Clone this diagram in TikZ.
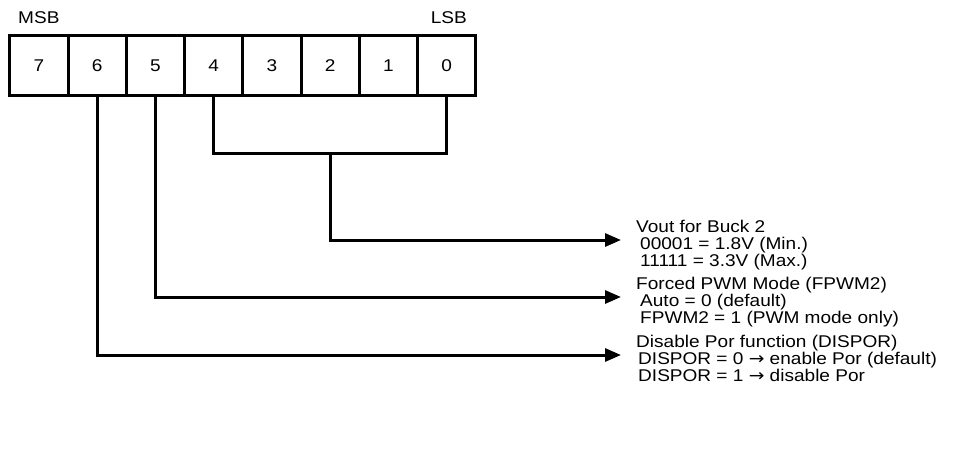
\documentclass[tikz,border=0pt]{standalone}
\usepackage{fontspec}
\setmainfont{Liberation Sans}[FakeStretch=1.12]
\newfontfamily\arrowfont{DejaVu Sans}[FakeStretch=1.1]
\newcommand{\rarr}{{\arrowfont →}}
\usetikzlibrary{arrows.meta,positioning,calc}
\begin{document}
\begin{tikzpicture}[x=1pt,y=-1pt,
  txt/.style={font=\fontsize{17}{17}\selectfont,inner sep=0pt},
  bitcell/.style={draw,line width=3pt,minimum width=58.25pt,minimum height=59pt,inner sep=0pt,txt,anchor=center},
  link/.style={line width=3pt},
  arr/.style={link,-{Triangle[length=16pt,width=13pt]}},
  lbl/.style={txt,anchor=base west}]
\useasboundingbox (0,0) rectangle (957,452);
\foreach \i/\b in {0/7,1/6,2/5,3/4,4/3,5/2,6/1,7/0}{
  \node[bitcell] (b\b) at ({39+58.25*\i},65.5) {\b};
}
\node[txt,anchor=base west] (msb) at (18,24) {MSB};
\node[txt,anchor=base east] (lsb) at (467,24) {LSB};
\coordinate (j4) at (b4.south |- 0,153);
\coordinate (j0) at (b0.south |- 0,153);
\coordinate (jm) at ($(j4)!0.5!(j0)$);
\draw[link] (b4.south) -- (j4) -- (j0) -- (b0.south);
\coordinate (a1) at (621,240);
\coordinate (a2) at (621,297);
\coordinate (a3) at (621,355);
\draw[arr] (jm) |- (a1);
\draw[arr] (b5.south) |- (a2);
\draw[arr] (b6.south) |- (a3);
\node[lbl] (t1a) at (636,232) {Vout for Buck 2};
\node[lbl] (t1b) at (640,249) {00001 = 1.8V (Min.)};
\node[lbl] (t1c) at (640,266) {11111 = 3.3V (Max.)};
\node[lbl] (t2a) at (636,289) {Forced PWM Mode (FPWM2)};
\node[lbl] (t2b) at (640,306) {Auto = 0 (default)};
\node[lbl] (t2c) at (640,323) {FPWM2 = 1 (PWM mode only)};
\node[lbl] (t3a) at (636,347) {Disable Por function (DISPOR)};
\node[lbl] (t3b) at (638,364) {DISPOR = 0 \rarr{} enable Por (default)};
\node[lbl] (t3c) at (638,381) {DISPOR = 1 \rarr{} disable Por};
\end{tikzpicture}
\end{document}
